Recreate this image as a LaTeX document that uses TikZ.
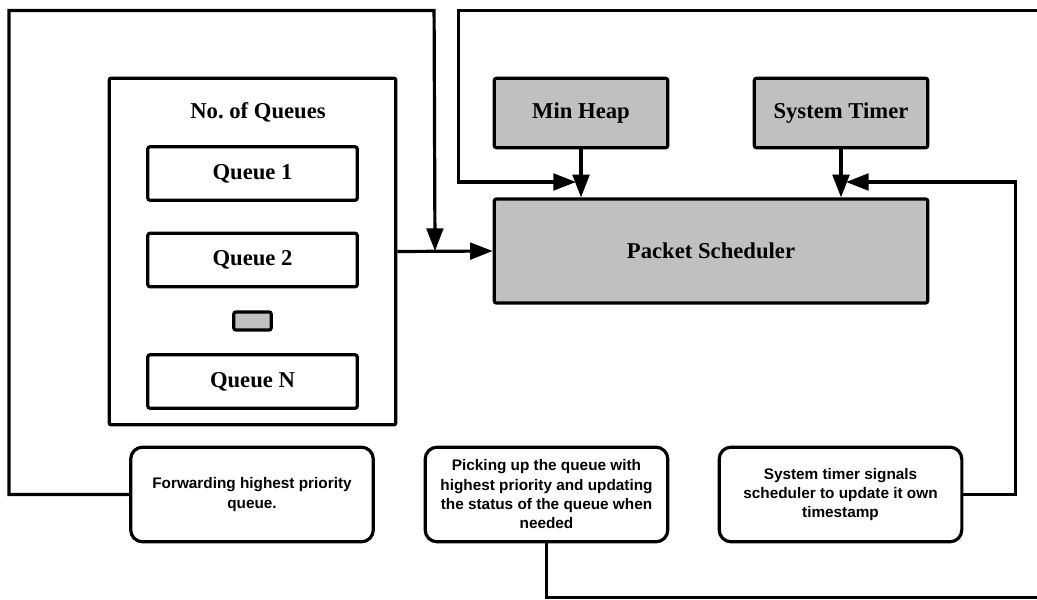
\documentclass[tikz,border=0pt]{standalone}
\usepackage{fontspec}
\setmainfont{Liberation Serif}
\newfontfamily\notefont{Liberation Sans}
\usepackage{tikz}
\usetikzlibrary{arrows.meta,calc}
\definecolor{boxgray}{HTML}{C0C0C0}
\tikzset{
  conn/.style={line width=2.4pt,line cap=butt,line join=miter},
  connarrow/.style={conn,-{Triangle[length=17pt,width=12.5pt]}},
  qBox/.style={draw,line width=2.4pt,rounded corners=1.5pt,inner sep=0pt,
        font=\fontsize{17}{20}\selectfont\bfseries,align=center},
  qPlain/.style={qBox,fill=white},
  qGray/.style={qBox,fill=boxgray},
  qNote/.style={qBox,rounded corners=9pt,fill=white,
        font=\notefont\fontsize{11.5}{14.5}\selectfont\bfseries,
        minimum width=182pt,minimum height=71pt},
  qTitle/.style={font=\fontsize{17}{20}\selectfont\bfseries},
}

\begin{document}
\begin{tikzpicture}[x=0.75pt,y=-0.75pt]
\useasboundingbox (0,0) rectangle (1037,599);

% queue block
\node[qPlain,minimum width=215pt,minimum height=260pt] (qbox) at (252.5,251.5) {};
\node[qTitle] (qtitle) at (258,112) {No.\ of Queues};
\node[qPlain,minimum width=157pt,minimum height=40pt] (q1) at (252.5,173.5) {Queue 1};
\node[qPlain,minimum width=157pt,minimum height=40pt] (q2) at (252.5,260) {Queue 2};
\node[qGray,minimum width=28pt,minimum height=13.5pt] (qdots) at (252.5,321) {};
\node[qPlain,minimum width=157pt,minimum height=40pt] (qn) at (252.5,381.5) {Queue N};

% scheduler side
\node[qGray,minimum width=130pt,minimum height=52pt] (heap) at (581,113) {Min Heap};
\node[qGray,minimum width=130pt,minimum height=52pt] (timer) at (841,113) {System Timer};
\node[qGray,minimum width=325pt,minimum height=78pt] (sched) at (711,251) {Packet Scheduler};

% notes
\node[qNote] (fwd) at (252,494.5) {Forwarding highest priority\\queue.};
\node[qNote] (pick) at (546.5,494.5) {Picking up the queue with\\highest priority and updating\\the status of the queue when\\needed};
\node[qNote] (sig) at (840.5,494.5) {System timer signals\\scheduler to update it own\\timestamp};

\coordinate (qjoin) at (435,251);
\coordinate (heapjoin) at (576,182);
\coordinate (timerjoin) at (846,182);

\draw[connarrow] (qbox.east) -- (sched.west);
\draw[connarrow] (heap.south) -- (heap.south |- sched.north);
\draw[connarrow] (timer.south) -- (timer.south |- sched.north);
\draw[connarrow] (fwd.west) -- ++(-120,0) |- ++(425,-484) -- (qjoin);
\draw[connarrow] (pick.south) |- ++(510,54) |- ++(-598,-587) |- (heapjoin);
\draw[connarrow] (sig.east) -- ++(52,0) |- (timerjoin);
\end{tikzpicture}
\end{document}
